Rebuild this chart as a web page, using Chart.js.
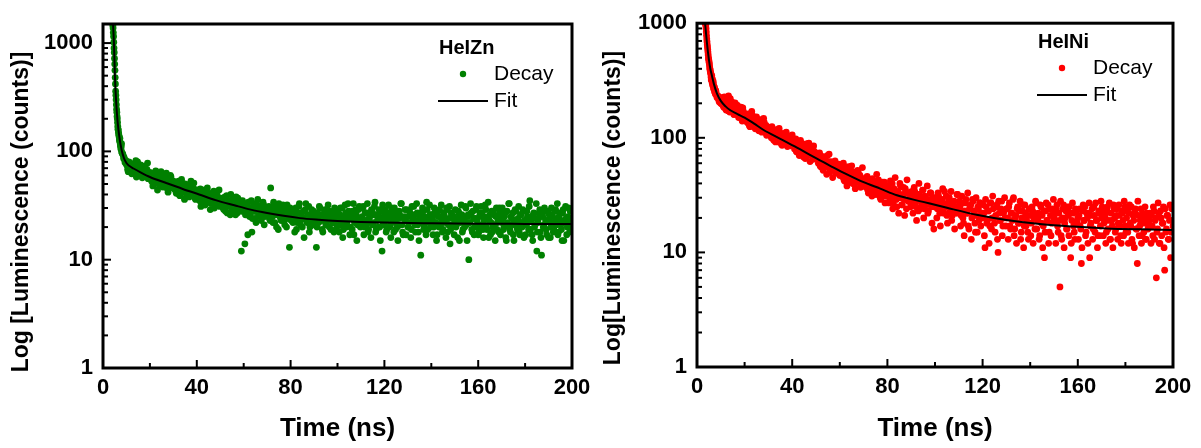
<!DOCTYPE html>
<html><head><meta charset="utf-8">
<script src="https://cdn.jsdelivr.net/npm/chart.js@4.4.1/dist/chart.umd.min.js"></script>
<style>
html,body{margin:0;padding:0;background:#fff;width:1201px;height:448px;overflow:hidden}
#w1{position:absolute;left:0;top:0;width:600px;height:448px}
#w2{position:absolute;left:600px;top:0;width:601px;height:448px}
</style>
</head><body>
<div id="w1"><canvas id="c1" width="600" height="448"></canvas></div>
<div id="w2"><canvas id="c2" width="601" height="448"></canvas></div>
<script>
// Sampling times (ns), set A
const times = [
3.6,3.8,4.0,4.2,4.4,4.6,4.8,5.0,5.2,5.4,5.6,5.8,6.0,6.2,6.4,6.6,6.8,7.0,7.2,7.4,7.6,7.8,8.0,8.4,8.8,9.2,9.6,10.0,
10.5,11,11.5,12,12.5,13,13.5,14,14.5,15,15.5,16,16.5,17,17.5,18,18.5,19,19.5,20,
20.5,21,21.5,22,22.5,23,23.5,24,24.5,25,25.5,26,26.5,27,27.5,28,28.5,29,29.5,30,
30.5,31,31.5,32,32.5,33,33.5,34,34.5,35,35.5,36,36.5,37,37.5,38,38.5,39,39.5,40,
40.5,41,41.5,42,42.5,43,43.5,44,44.5,45,45.5,46,46.5,47,47.5,48,48.5,49,49.5,50,
50.5,51,51.5,52,52.5,53,53.5,54,54.5,55,55.5,56,56.5,57,57.5,58,58.5,59,59.5,60,
60.5,61,61.5,62,62.5,63,63.5,64,64.5,65,65.5,66,66.5,67,67.5,68,68.5,69,69.5,70,
70.5,71,71.5,72,72.5,73,73.5,74,74.5,75,75.5,76,76.5,77,77.5,78,78.5,79,79.5,80,
80.5,81,81.5,82,82.5,83,83.5,84,84.5,85,85.5,86,86.5,87,87.5,88,88.5,89,89.5,90,
90.5,91,91.5,92,92.5,93,93.5,94,94.5,95,95.5,96,96.5,97,97.5,98,98.5,99,99.5,100,
100.5,101,101.5,102,102.5,103,103.5,104,104.5,105,105.5,106,106.5,107,107.5,108,108.5,109,109.5,110,
110.5,111,111.5,112,112.5,113,113.5,114,114.5,115,115.5,116,116.5,117,117.5,118,118.5,119,119.5,120,
120.5,121,121.5,122,122.5,123,123.5,124,124.5,125,125.5,126,126.5,127,127.5,128,128.5,129,129.5,130,
130.5,131,131.5,132,132.5,133,133.5,134,134.5,135,135.5,136,136.5,137,137.5,138,138.5,139,139.5,140,
140.5,141,141.5,142,142.5,143,143.5,144,144.5,145,145.5,146,146.5,147,147.5,148,148.5,149,149.5,150,
150.5,151,151.5,152,152.5,153,153.5,154,154.5,155,155.5,156,156.5,157,157.5,158,158.5,159,159.5,160,
160.5,161,161.5,162,162.5,163,163.5,164,164.5,165,165.5,166,166.5,167,167.5,168,168.5,169,169.5,170,
170.5,171,171.5,172,172.5,173,173.5,174,174.5,175,175.5,176,176.5,177,177.5,178,178.5,179,179.5,180,
180.5,181,181.5,182,182.5,183,183.5,184,184.5,185,185.5,186,186.5,187,187.5,188,188.5,189,189.5,190,
190.5,191,191.5,192,192.5,193,193.5,194,194.5,195,195.5,196,196.5,197,197.5,198,198.5,199,199.5,200
];
// Sampling times (ns), set B (interleaved channels)
const timesB = [
3.7,3.9,4.1,4.3,4.5,4.7,4.9,5.1,5.3,5.5,5.7,5.9,6.1,6.3,6.5,6.7,6.9,7.1,7.3,7.5,7.7,7.9,8.2,8.6,9.0,9.4,9.8,
10.25,10.75,11.25,11.75,12.25,12.75,13.25,13.75,14.25,14.75,15.25,15.75,16.25,16.75,17.25,17.75,18.25,18.75,19.25,19.75,
20.25,20.75,21.25,21.75,22.25,22.75,23.25,23.75,24.25,24.75,25.25,25.75,26.25,26.75,27.25,27.75,28.25,28.75,29.25,29.75,
30.25,30.75,31.25,31.75,32.25,32.75,33.25,33.75,34.25,34.75,35.25,35.75,36.25,36.75,37.25,37.75,38.25,38.75,39.25,39.75,
40.25,40.75,41.25,41.75,42.25,42.75,43.25,43.75,44.25,44.75,45.25,45.75,46.25,46.75,47.25,47.75,48.25,48.75,49.25,49.75,
50.25,50.75,51.25,51.75,52.25,52.75,53.25,53.75,54.25,54.75,55.25,55.75,56.25,56.75,57.25,57.75,58.25,58.75,59.25,59.75,
60.25,60.75,61.25,61.75,62.25,62.75,63.25,63.75,64.25,64.75,65.25,65.75,66.25,66.75,67.25,67.75,68.25,68.75,69.25,69.75,
70.25,70.75,71.25,71.75,72.25,72.75,73.25,73.75,74.25,74.75,75.25,75.75,76.25,76.75,77.25,77.75,78.25,78.75,79.25,79.75,
80.25,80.75,81.25,81.75,82.25,82.75,83.25,83.75,84.25,84.75,85.25,85.75,86.25,86.75,87.25,87.75,88.25,88.75,89.25,89.75,
90.25,90.75,91.25,91.75,92.25,92.75,93.25,93.75,94.25,94.75,95.25,95.75,96.25,96.75,97.25,97.75,98.25,98.75,99.25,99.75,
100.25,100.75,101.25,101.75,102.25,102.75,103.25,103.75,104.25,104.75,105.25,105.75,106.25,106.75,107.25,107.75,108.25,108.75,109.25,109.75,
110.25,110.75,111.25,111.75,112.25,112.75,113.25,113.75,114.25,114.75,115.25,115.75,116.25,116.75,117.25,117.75,118.25,118.75,119.25,119.75,
120.25,120.75,121.25,121.75,122.25,122.75,123.25,123.75,124.25,124.75,125.25,125.75,126.25,126.75,127.25,127.75,128.25,128.75,129.25,129.75,
130.25,130.75,131.25,131.75,132.25,132.75,133.25,133.75,134.25,134.75,135.25,135.75,136.25,136.75,137.25,137.75,138.25,138.75,139.25,139.75,
140.25,140.75,141.25,141.75,142.25,142.75,143.25,143.75,144.25,144.75,145.25,145.75,146.25,146.75,147.25,147.75,148.25,148.75,149.25,149.75,
150.25,150.75,151.25,151.75,152.25,152.75,153.25,153.75,154.25,154.75,155.25,155.75,156.25,156.75,157.25,157.75,158.25,158.75,159.25,159.75,
160.25,160.75,161.25,161.75,162.25,162.75,163.25,163.75,164.25,164.75,165.25,165.75,166.25,166.75,167.25,167.75,168.25,168.75,169.25,169.75,
170.25,170.75,171.25,171.75,172.25,172.75,173.25,173.75,174.25,174.75,175.25,175.75,176.25,176.75,177.25,177.75,178.25,178.75,179.25,179.75,
180.25,180.75,181.25,181.75,182.25,182.75,183.25,183.75,184.25,184.75,185.25,185.75,186.25,186.75,187.25,187.75,188.25,188.75,189.25,189.75,
190.25,190.75,191.25,191.75,192.25,192.75,193.25,193.75,194.25,194.75,195.25,195.75,196.25,196.75,197.25,197.75,198.25,198.75,199.25,199.75
];

// HeIZn decay counts (at times / timesB)
const znDecay = [
null,null,null,1450,1250,1020,820,640,480,360,300,245,210,185,160,150,140,128,132,115,108,112,98,95,86,84,80,76,
68,80,71,77,64,74,69,82,62,71,66,75,60,70,73,59,67,78,62,64,
55,63,50,58,66,52,57,49,61,54,47,59,52,63,45,55,50,58,48,53,
46,52,43,49,40,47,55,42,45,50,38,44,48,41,53,39,46,42,36,44,
41,37,45,34,39,43,32,38,46,35,40,33,37,42,30,36,39,34,44,33,
36,31,29,38,33,27,35,31,40,28,34,30,26,33,37,29,32,12,35,30,
14,31,27,34,25,30,18,28,33,24,29,36,26,31,23,28,32,25,30,27,
29,24,46,27,22,31,26,20,28,33,25,23,30,27,21,29,32,24,13,26,
26,22,29,24,19,27,31,23,25,20,28,24,33,22,26,18,25,29,23,21,
24,13,27,22,30,25,19,23,28,21,26,32,20,24,27,22,18,25,29,23,
21,26,24,30,19,23,27,22,33,25,20,24,28,17,23,26,21,29,24,22,
25,31,20,23,27,18,24,22,29,21,26,34,19,23,25,20,28,12,22,26,
23,19,27,24,21,30,25,18,22,28,20,24,26,33,21,17,25,23,29,20,
22,26,19,24,31,21,23,27,18,25,11,22,28,20,24,34,19,23,26,21,
24,20,27,22,17,25,29,21,23,19,26,22,30,18,24,14,27,21,25,23,
20,24,28,15,22,26,19,23,31,21,25,10,22,27,18,24,20,29,23,17,
25,21,27,19,23,32,20,24,16,26,22,18,28,21,25,19,23,30,17,22,
24,20,27,15,22,33,19,25,21,17,23,28,20,24,18,26,22,29,16,23,
21,25,19,35,23,17,26,20,24,12,22,27,18,11,25,21,28,19,23,16,
24,20,26,18,22,29,21,17,25,23,19,27,15,22,24,20,30,18,23,21
];
const znDecayB = [
null,null,null,1380,1150,900,720,560,420,330,270,230,200,170,158,145,136,125,120,112,104,118,96,92,88,79,82,
74,65,79,70,62,76,67,72,58,80,65,69,74,57,66,71,61,68,56,63,
60,53,48,57,62,51,44,56,50,65,53,47,58,49,54,42,51,60,46,50,
50,44,41,48,53,39,45,51,43,36,47,42,49,38,44,46,40,51,37,43,
38,42,35,31,40,37,44,33,39,36,41,29,38,34,43,35,32,39,36,31,
33,37,30,35,28,39,32,34,26,31,36,29,33,38,27,32,35,30,28,33,
29,26,33,17,30,27,35,24,31,28,22,32,27,30,25,29,34,21,28,26,
27,31,23,28,25,34,22,29,26,19,30,24,27,32,23,26,20,28,25,30,
23,28,25,18,30,22,26,33,21,27,24,16,29,23,25,31,20,26,22,28,
22,27,20,25,31,23,26,18,24,29,21,25,23,28,19,26,22,30,24,20,
27,18,30,21,16,25,32,20,24,28,17,26,19,33,22,29,15,24,31,20,
24,30,17,27,21,33,19,25,16,28,22,31,18,26,20,29,15,24,32,21,
29,18,25,32,20,16,27,23,30,19,26,15,28,21,33,18,24,29,17,25,
20,28,16,31,23,26,18,33,21,15,27,24,30,19,25,17,29,22,32,20,
26,17,30,22,15,28,20,25,32,18,27,23,16,29,21,31,19,26,24,17,
29,21,16,27,24,32,18,25,20,30,15,26,22,33,19,28,17,24,31,20,
18,27,31,21,16,25,29,19,34,23,17,28,20,26,15,30,22,18,27,24,
30,19,25,16,28,21,33,18,24,27,15,29,22,19,31,17,26,20,28,23,
17,28,22,31,19,25,15,27,21,33,18,24,29,16,26,20,30,23,17,28,
26,16,30,22,19,28,24,33,18,27,21,15,29,23,31,17,25,20,28,22
];

// HeINi decay counts (at times / timesB)
const niDecay = [
980,900,780,690,620,560,500,470,440,400,380,360,320,350,300,290,310,270,280,255,262,240,250,225,232,210,218,200,
215,190,228,180,205,172,198,220,176,185,160,202,168,192,150,178,185,140,170,162,
155,138,162,128,147,170,132,141,120,152,136,115,144,126,133,148,118,128,110,124,
118,104,125,98,110,92,115,102,121,96,88,108,100,94,112,84,103,97,90,106,
92,80,98,75,86,70,95,82,77,88,66,84,73,90,62,79,71,85,68,74,
70,60,74,56,64,52,68,58,48,62,72,55,60,45,57,63,50,54,59,47,
55,46,60,42,50,38,53,47,44,57,40,49,36,45,52,41,47,39,55,43,
44,37,46,33,40,36,31,42,38,35,48,32,39,30,36,41,33,27,38,34,
36,29,33,40,27,35,31,25,34,30,38,26,32,29,36,24,33,28,31,27,
31,27,34,25,29,23,32,28,26,35,24,30,27,22,29,33,25,28,16,26,
28,24,31,22,26,29,23,34,25,21,27,30,24,19,26,28,22,25,32,23,
25,21,27,18,23,29,22,17,24,26,20,28,23,15,21,25,19,27,22,20,
22,11,25,19,23,17,27,20,24,18,21,26,10,22,19,28,17,23,20,24,
20,25,17,22,19,30,16,21,24,18,23,13,20,26,17,22,19,15,24,21,
18,23,20,16,27,19,22,14,25,21,17,9,23,19,26,15,21,18,24,20,
19,24,17,22,5,14,20,26,18,23,16,21,25,9,19,22,15,24,18,20,
21,17,8,23,19,25,15,20,22,9,18,24,16,21,27,19,14,22,17,20,
23,18,21,15,25,19,13,22,17,26,20,16,24,18,21,14,23,19,28,17,
20,15,22,18,25,12,19,23,16,8,21,17,24,14,20,18,13,22,16,19,
17,21,14,23,19,6,16,22,12,20,18,25,7,15,21,13,19,9,24,17
];
const niDecayB = [
950,840,730,650,590,530,485,455,420,395,370,340,335,315,325,285,295,265,275,250,245,258,236,228,220,205,212,
198,225,185,210,175,195,232,168,188,205,178,160,196,172,185,155,175,168,182,148,
145,160,135,152,125,142,158,130,138,122,145,118,132,140,112,128,136,120,105,117,
110,122,100,114,95,108,118,99,92,112,104,86,97,109,93,101,88,99,94,85,
88,95,82,76,91,84,72,87,79,68,83,75,89,70,78,73,81,65,76,70,
66,73,62,57,69,60,54,65,59,70,56,50,62,58,53,61,49,57,52,55,
51,58,47,43,54,49,45,56,41,48,51,44,39,47,42,50,46,37,44,40,
42,38,45,35,41,39,33,44,37,32,40,36,43,34,29,38,35,41,31,36,
38,27,42,31,24,36,45,29,33,22,40,30,26,37,21,34,43,28,32,25,
34,22,37,27,19,32,40,24,29,35,20,31,26,38,23,28,33,18,30,25,
30,20,33,24,17,28,36,22,26,31,18,29,23,34,21,27,16,25,32,22,
28,17,31,20,14,27,22,33,16,25,13,29,21,18,30,15,24,27,17,22,
26,14,29,18,23,12,27,16,31,20,15,25,13,28,19,24,14,22,30,17,
24,13,27,16,22,29,14,20,12,25,18,28,15,23,11,26,17,21,13,24,
14,25,12,22,28,16,20,13,26,18,11,23,15,27,19,12,24,14,21,29,
22,12,26,15,19,28,13,24,11,20,16,25,14,22,12,27,17,13,23,18,
13,24,16,11,26,19,14,22,12,27,17,21,13,25,15,19,11,23,14,28,
25,14,20,12,23,16,27,13,19,11,24,15,21,13,26,17,12,22,14,25,
15,23,12,26,17,13,21,11,24,16,28,14,19,12,22,15,25,13,20,17,
22,12,17,25,13,20,15,27,12,23,14,18,11,24,16,21,13,26,15,19
];

// Fit curves (read at knots)
const znFitTimes  = [4.3,4.7,5.1,5.6,6.2,7,8,9,10,11,13,16,20,27,34,41,48,56,63,70,77,84,92,100,110,120,140,160,180,200];
const znFitCounts = [1500,950,480,290,190,135,102,86,78,74,69.5,64,58,51,45,40,35.5,31.8,29,27,25.4,24.2,23.4,22.8,22.3,22.0,21.7,21.5,21.4,21.3];
const niFitTimes  = [3.3,4.2,5,5.6,6.3,7,8.4,10,12,14,17,20,24,28,35,42,49,56,63,70,77,84,95,105,118,130,145,158,172,186,200];
const niFitCounts = [1050,665,480,400,346,300,243,210,188,174,161,150,133,117,98,82,68,57,48,41,36,31.5,27.6,24.5,21.2,19.2,17.6,16.8,16.2,15.9,15.7];

const xTickValues = [0,40,80,120,160,200];
const xMinorValues = [20,60,100,140,180];
const yTickValues = [1,10,100,1000];

const FONT = '"Liberation Sans", Arial, Helvetica, sans-serif';

function pts(xs, ys){ return xs.map((x,i)=>({x:x, y:ys[i]})).filter(p=>p.y!==null); }

function decoPlugin(o){
  return {
    id:'deco',
    afterDraw(chart){
      const ctx = chart.ctx, ca = chart.chartArea;
      const xs = chart.scales.x, ys = chart.scales.y;
      ctx.save();
      ctx.strokeStyle = '#000'; ctx.lineWidth = 2;
      xTickValues.forEach(v=>{ const px = xs.getPixelForValue(v); ctx.beginPath(); ctx.moveTo(px, ca.bottom); ctx.lineTo(px, ca.bottom-8); ctx.stroke(); });
      xMinorValues.forEach(v=>{ const px = xs.getPixelForValue(v); ctx.beginPath(); ctx.moveTo(px, ca.bottom); ctx.lineTo(px, ca.bottom-5); ctx.stroke(); });
      const ymax = ys.max;
      yTickValues.forEach(d=>{
        if (d <= ymax) { const py = ys.getPixelForValue(d); ctx.beginPath(); ctx.moveTo(ca.left, py); ctx.lineTo(ca.left+8, py); ctx.stroke(); }
        for (let m=2;m<=9;m++){ const v=d*m; if (v>ymax) break; const py = ys.getPixelForValue(v); ctx.beginPath(); ctx.moveTo(ca.left, py); ctx.lineTo(ca.left+5, py); ctx.stroke(); }
      });
      ctx.lineWidth = 3;
      ctx.strokeRect(ca.left, ca.top, ca.right-ca.left, ca.bottom-ca.top);
      // legend
      ctx.fillStyle = '#000';
      ctx.textBaseline = 'middle'; ctx.textAlign = 'left';
      ctx.font = 'bold 20px ' + FONT;
      ctx.fillText(o.legendTitle, o.lx, o.ly);
      ctx.fillStyle = o.color;
      ctx.beginPath(); ctx.arc(o.lx+24, o.ly+26, 3.2, 0, Math.PI*2); ctx.fill();
      ctx.fillStyle = '#000';
      ctx.font = '21px ' + FONT;
      ctx.fillText('Decay', o.lx+55, o.ly+26);
      ctx.lineWidth = 2;
      ctx.beginPath(); ctx.moveTo(o.lx-1, o.ly+53); ctx.lineTo(o.lx+49, o.ly+53); ctx.stroke();
      ctx.fillText('Fit', o.lx+55, o.ly+53);
      // y-axis title
      ctx.save();
      ctx.translate(o.tx, o.ty); ctx.rotate(-Math.PI/2);
      ctx.textAlign = 'center'; ctx.textBaseline = 'middle';
      ctx.font = 'bold 23px ' + FONT;
      ctx.fillText(o.yTitle, 0, 0);
      ctx.restore();
      ctx.restore();
    }
  };
}

function makeChart(id, o){
  return new Chart(document.getElementById(id), {
    type: 'scatter',
    data: { datasets: [
      { label:'Fit', type:'line', data: pts(o.fitT, o.fitY), borderColor:'#000', borderWidth:2, pointRadius:0, fill:false, cubicInterpolationMode:'monotone' },
      { label:'Decay', data: pts(times, o.decay).concat(pts(timesB, o.decayB)), backgroundColor:o.color, borderWidth:0, pointRadius:3.4, pointHoverRadius:3.4 }
    ]},
    options: {
      responsive:false, animation:false, devicePixelRatio:1,
      layout:{ padding:{ left:0, right:o.padRight, top:o.padTop, bottom:0 } },
      plugins:{ legend:{display:false}, tooltip:{enabled:false} },
      scales:{
        x:{ type:'linear', min:0, max:200,
            grid:{display:false, drawTicks:false}, border:{display:false},
            afterBuildTicks(s){ s.ticks = xTickValues.map(v=>({value:v})); },
            afterFit(s){ s.height = o.xH; },
            ticks:{ color:'#000', padding:7, maxRotation:0, font:{family:FONT, size:22, weight:'bold'}, callback:(v)=>String(v) },
            title:{ display:true, text:'Time (ns)', color:'#000', font:{family:FONT, size:26, weight:'bold'}, padding:{top:0,bottom:4} } },
        y:{ type:'logarithmic', min:1, max:o.ymax,
            grid:{display:false, drawTicks:false}, border:{display:false},
            afterBuildTicks(s){ s.ticks = yTickValues.filter(v=>v<=o.ymax).map(v=>({value:v})); },
            afterFit(s){ s.width = o.yW; },
            ticks:{ color:'#000', padding:10, font:{family:FONT, size:22, weight:'bold'}, callback:(v)=>String(v) } }
      }
    },
    plugins:[decoPlugin(o)]
  });
}

makeChart('c1', { decay:znDecay, decayB:znDecayB, fitT:znFitTimes, fitY:znFitCounts, color:'#008000', ymax:1500,
  yW:103, xH:80, padRight:28, padTop:24, legendTitle:'HeIZn', lx:439, ly:48,
  yTitle:'Log [Luminescence (counts)]', tx:22, ty:212 });
makeChart('c2', { decay:niDecay, decayB:niDecayB, fitT:niFitTimes, fitY:niFitCounts, color:'#FF0000', ymax:1000,
  yW:97, xH:81, padRight:28, padTop:17, legendTitle:'HeINi', lx:438, ly:42,
  yTitle:'Log[Luminescence (counts)]', tx:14, ty:208 });
</script>
</body></html>
